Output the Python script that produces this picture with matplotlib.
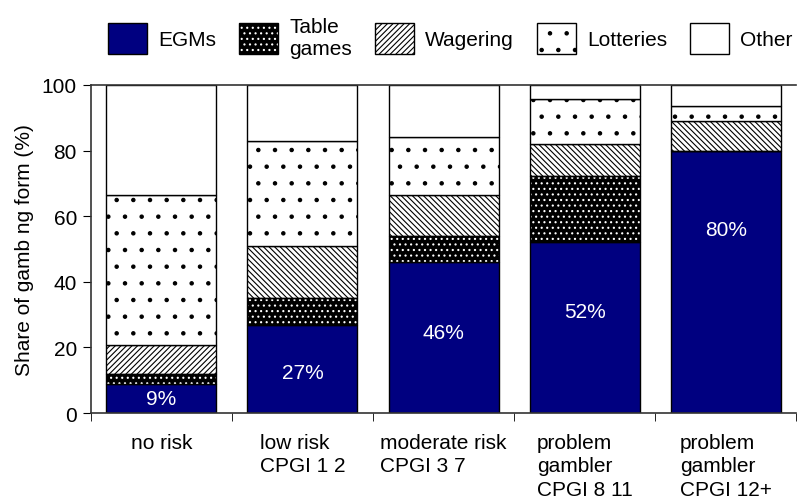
import numpy as np
import matplotlib
matplotlib.use("Agg")
import matplotlib.pyplot as plt
from matplotlib.patches import Patch
from matplotlib.ticker import FixedLocator

plt.rcParams['font.family'] = ['Liberation Sans', 'DejaVu Sans']
plt.rcParams['hatch.linewidth'] = 0.8

# share of gambling spend by form, per CPGI risk group (%)
groups = ['no risk', 'low risk\nCPGI 1 2', 'moderate risk\nCPGI 3 7',
          'problem\ngambler\nCPGI 8 11', 'problem\ngambler\nCPGI 12+']
egms = [9, 27, 46, 52, 80]
table_games = [3, 8, 8, 20.3, 0]
wagering = [8.9, 16, 12.5, 9.7, 9]
lotteries = [45.5, 31.8, 17.7, 13.7, 4.5]
other = [100 - sum(v) for v in zip(egms, table_games, wagering, lotteries)]
label_pos = [4.5, 12.5, 24.5, 31, 56]

x = np.arange(len(groups))
w = 0.78
fs = 15

fig = plt.figure(figsize=(7.97, 5.02), dpi=100)
ax = fig.add_axes([0.114, 0.175, 0.885, 0.654])

bottom = np.zeros(len(groups))
ax.bar(x, egms, w, bottom=bottom, color='#000080', edgecolor='black', lw=1, zorder=2)
bottom += egms
# table games: white dots on black, outline drawn on top
ax.bar(x, table_games, w, bottom=bottom, facecolor='black', edgecolor='white',
       hatch='...', lw=0, zorder=2)
ax.bar(x, table_games, w, bottom=bottom, fill=False, edgecolor='black', lw=1, zorder=3)
bottom += table_games
wag_hatch = ['//////', '\\' * 6, '\\' * 6, '\\' * 6, '\\' * 6]
for i in range(len(groups)):
    ax.bar(x[i], wagering[i], w, bottom=bottom[i], facecolor='white',
           edgecolor='black', hatch=wag_hatch[i], lw=1, zorder=2)
bottom += wagering
ax.bar(x, lotteries, w, bottom=bottom, facecolor='white', edgecolor='black',
       hatch='.', lw=1, zorder=2)
bottom += lotteries
ax.bar(x, other, w, bottom=bottom, facecolor='white', edgecolor='black', lw=1, zorder=2)

for xi, v, yp in zip(x, egms, label_pos):
    ax.text(xi, yp, f'{v}%', color='white', ha='center', va='center', fontsize=fs, zorder=4)

ax.set_xlim(-0.5, len(groups) - 0.5)
ax.set_ylim(0, 100)
ax.set_yticks(np.arange(0, 101, 20))
ax.tick_params(axis='y', labelsize=fs, direction='out', length=6, pad=4)
ax.set_ylabel('Share of gamb ng form (%)', fontsize=fs, labelpad=6)

ax.set_xticks(x)
ax.set_xticklabels(groups, fontsize=fs, multialignment='left', va='top', linespacing=1.3)
ax.tick_params(axis='x', which='major', length=0, pad=14)
ax.xaxis.set_minor_locator(FixedLocator(np.arange(-0.5, len(groups), 1)))
ax.tick_params(axis='x', which='minor', length=6, direction='out')

ax.spines['right'].set_visible(False)
for s in ['left', 'bottom', 'top']:
    ax.spines[s].set_linewidth(1.2)
    ax.spines[s].set_color('#333333')

handles = [
    Patch(facecolor='#000080', edgecolor='black'),
    (Patch(facecolor='black', edgecolor='white', hatch='...', lw=0),
     Patch(fill=False, edgecolor='black')),
    Patch(facecolor='white', edgecolor='black', hatch='//////'),
    Patch(facecolor='white', edgecolor='black', hatch='.'),
    Patch(facecolor='white', edgecolor='black'),
]
names = ['EGMs', 'Table\ngames', 'Wagering', 'Lotteries', 'Other']
fig.legend(handles, names, loc='center', bbox_to_anchor=(0.565, 0.923), ncol=5,
           frameon=False, fontsize=fs, handlelength=1.875, handleheight=1.875,
           handletextpad=0.53, columnspacing=1.1, labelspacing=0.2)

fig.savefig('out.png', dpi=100)
